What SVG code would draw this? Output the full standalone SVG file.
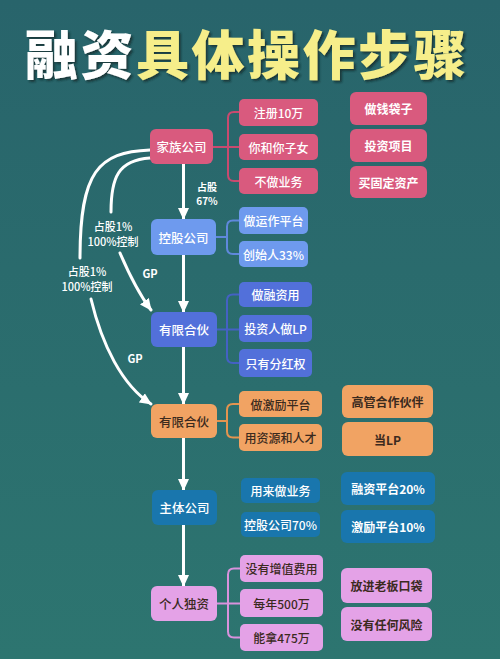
<svg xmlns="http://www.w3.org/2000/svg" width="500" height="659" viewBox="0 0 500 659">
<defs>
<linearGradient id="bg" x1="0" y1="0" x2="0" y2="1">
<stop offset="0" stop-color="#28646b"/>
<stop offset="1" stop-color="#2d7570"/>
</linearGradient>
<filter id="sh" x="-5%" y="-20%" width="110%" height="140%">
<feDropShadow dx="2" dy="2" stdDeviation="0.8" flood-color="#102020" flood-opacity="0.7"/>
</filter>
<marker id="ah" viewBox="0 0 12 12" markerWidth="12" markerHeight="12" refX="11" refY="6" orient="auto" markerUnits="userSpaceOnUse">
<path d="M0,0.5 L12,6 L0,11.5 z" fill="#ffffff"/>
</marker>
<style>
text{font-family:"Noto Sans CJK SC","Noto Sans",sans-serif;text-anchor:middle;dominant-baseline:central}
.title{font-size:53px;font-weight:900;letter-spacing:2.5px}
.n{font-size:12.5px;font-weight:500}
.l{font-size:12px;font-weight:500}
.r{font-size:12px;font-weight:700}
.w{fill:#ffffff}
.d{fill:#3b2a1e}
.lab{font-size:11px;font-weight:500;fill:#ffffff}
.labb{font-size:11px;font-weight:700;fill:#ffffff}
.sm{font-size:10px;font-weight:700;fill:#ffffff}
.pink{fill:#d95a7e}
.lblue{fill:#6e9aee}
.indigo{fill:#5270da}
.orange{fill:#f1a363}
.dblue{fill:#1976ad}
.lilac{fill:#e4a2e7}
.flow{fill:none;stroke:#ffffff;stroke-width:3;stroke-linecap:round}
.br{fill:none;stroke-width:2}
</style>
</defs>
<rect width="500" height="659" fill="url(#bg)"/>

<g id="title" filter="url(#sh)">
<text x="247" y="52" class="title"><tspan fill="#ffffff">融资</tspan><tspan fill="#f6ee8a">具体操作步骤</tspan></text>
</g>

<g id="connectors">
<path class="flow" d="M183.5,164 V219" marker-end="url(#ah)"/>
<path class="flow" d="M183.5,255 V312" marker-end="url(#ah)"/>
<path class="flow" d="M183.5,347 V404" marker-end="url(#ah)"/>
<path class="flow" d="M183.5,438 V490" marker-end="url(#ah)"/>
<path class="flow" d="M183.5,525 V586" marker-end="url(#ah)"/>
<path class="flow" d="M150,150 C98,152 80,172 80,258"/>
<path class="flow" d="M91,299 C102,345 122,385 151,404" marker-end="url(#ah)"/>
<path class="flow" d="M150,158 C118,160 111,178 111,212"/>
<path class="flow" d="M120,253 C129,274 139,294 151,310" marker-end="url(#ah)"/>
<path class="br" stroke="#c94a6f" d="M213,147 H239 M239,112 H234 Q228,112 228,118 V175 Q228,181 234,181 H239"/>
<path class="br" stroke="#5f88dc" d="M216,237 H227 M239,220.5 H233 Q227,220.5 227,226.5 V248 Q227,254 233,254 H239"/>
<path class="br" stroke="#4461c4" d="M217,329.5 H239 M239,294.5 H233 Q227,294.5 227,300.5 V357 Q227,363 233,363 H239"/>
<path class="br" stroke="#e4944f" d="M217,421 H227 M239,404 H233 Q227,404 227,410 V431.5 Q227,437.5 233,437.5 H239"/>
<path class="br" stroke="#d992dd" d="M217,603.5 H240 M240,568.5 H234 Q228,568.5 228,574.5 V631.5 Q228,637.5 234,637.5 H240"/>
<text x="207" y="186" class="sm">占股</text>
<text x="207" y="200" class="sm">67%</text>
<text x="113" y="226" class="lab">占股1%</text>
<text x="113" y="241" class="lab">100%控制</text>
<text x="87" y="271" class="lab">占股1%</text>
<text x="87" y="286" class="lab">100%控制</text>
<text x="150" y="273" class="labb">GP</text>
<text x="135" y="358" class="labb">GP</text>
</g>

<g id="family">
<rect x="150" y="129" width="63" height="35" rx="6" class="pink"/>
<text x="181.5" y="146.5" class="n w">家族公司</text>
</g>
<g id="family-leaves">
<rect x="239" y="99" width="79" height="27" rx="5" class="pink"/><text x="278.5" y="112.5" class="l w">注册10万</text>
<rect x="239" y="134" width="79" height="26" rx="5" class="pink"/><text x="278.5" y="147" class="l w">你和你子女</text>
<rect x="239" y="168" width="79" height="26" rx="5" class="pink"/><text x="278.5" y="181" class="l w">不做业务</text>
</g>
<g id="family-right">
<rect x="350" y="92" width="77" height="33" rx="6" class="pink"/><text x="388.5" y="108.5" class="r w">做钱袋子</text>
<rect x="350" y="129" width="77" height="33" rx="6" class="pink"/><text x="388.5" y="145.5" class="r w">投资项目</text>
<rect x="350" y="166" width="77" height="32" rx="6" class="pink"/><text x="388.5" y="182" class="r w">买固定资产</text>
</g>

<g id="holding">
<rect x="151" y="219" width="65" height="36" rx="6" class="lblue"/>
<text x="183.5" y="237" class="n w">控股公司</text>
</g>
<g id="holding-leaves">
<rect x="239" y="207" width="69" height="27" rx="5" class="lblue"/><text x="273.5" y="220.5" class="l w">做运作平台</text>
<rect x="239" y="241" width="69" height="26" rx="5" class="lblue"/><text x="273.5" y="254" class="l w">创始人33%</text>
</g>

<g id="lp1">
<rect x="151" y="312" width="66" height="35" rx="6" class="indigo"/>
<text x="184" y="329.5" class="n w">有限合伙</text>
</g>
<g id="lp1-leaves">
<rect x="239" y="282" width="73" height="25" rx="5" class="indigo"/><text x="275.5" y="294.5" class="l w">做融资用</text>
<rect x="239" y="315" width="73" height="27" rx="5" class="indigo"/><text x="275.5" y="328.5" class="l w">投资人做LP</text>
<rect x="239" y="349" width="73" height="28" rx="5" class="indigo"/><text x="275.5" y="363" class="l w">只有分红权</text>
</g>

<g id="lp2">
<rect x="151" y="404" width="66" height="34" rx="6" class="orange"/>
<text x="184" y="421" class="n d">有限合伙</text>
</g>
<g id="lp2-leaves">
<rect x="239" y="391" width="83" height="26" rx="5" class="orange"/><text x="280.5" y="404" class="l d">做激励平台</text>
<rect x="239" y="424" width="83" height="27" rx="5" class="orange"/><text x="280.5" y="437.5" class="l d">用资源和人才</text>
</g>
<g id="lp2-right">
<rect x="342" y="385" width="91" height="33" rx="6" class="orange"/><text x="387.5" y="401.5" class="r d">高管合作伙伴</text>
<rect x="342" y="422" width="91" height="34" rx="6" class="orange"/><text x="387.5" y="439" class="r d">当LP</text>
</g>

<g id="main">
<rect x="152" y="490" width="65" height="35" rx="6" class="dblue"/>
<text x="184.5" y="507.5" class="n w">主体公司</text>
</g>
<g id="main-leaves">
<rect x="241" y="478" width="79" height="25" rx="5" class="dblue"/><text x="280.5" y="490.5" class="l w">用来做业务</text>
<rect x="241" y="512" width="79" height="25" rx="5" class="dblue"/><text x="280.5" y="524.5" class="l w">控股公司70%</text>
</g>
<g id="main-right">
<rect x="341" y="472" width="94" height="33" rx="6" class="dblue"/><text x="388" y="488.5" class="r w">融资平台20%</text>
<rect x="341" y="510" width="94" height="33" rx="6" class="dblue"/><text x="388" y="526.5" class="r w">激励平台10%</text>
</g>

<g id="sole">
<rect x="151" y="586" width="66" height="35" rx="6" class="lilac"/>
<text x="184" y="603.5" class="n d">个人独资</text>
</g>
<g id="sole-leaves">
<rect x="240" y="555" width="83" height="27" rx="5" class="lilac"/><text x="281.5" y="568.5" class="l d">没有增值费用</text>
<rect x="240" y="589" width="83" height="28" rx="5" class="lilac"/><text x="281.5" y="603" class="l d">每年500万</text>
<rect x="240" y="624" width="83" height="27" rx="5" class="lilac"/><text x="281.5" y="637.5" class="l d">能拿475万</text>
</g>
<g id="sole-right">
<rect x="341" y="568" width="91" height="35" rx="6" class="lilac"/><text x="386.5" y="585.5" class="r d">放进老板口袋</text>
<rect x="341" y="607" width="91" height="34" rx="6" class="lilac"/><text x="386.5" y="624" class="r d">没有任何风险</text>
</g>
</svg>
